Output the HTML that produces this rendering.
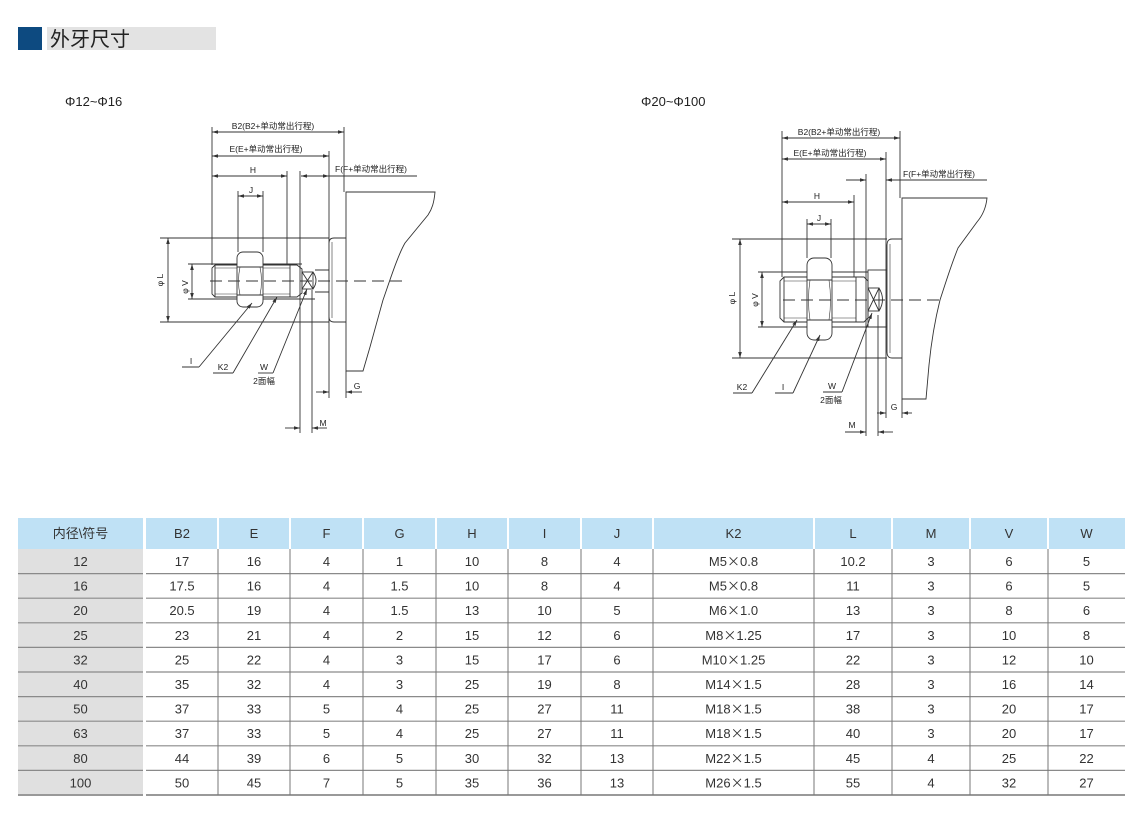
<!DOCTYPE html>
<html><head><meta charset="utf-8"><style>
html,body{margin:0;padding:0;background:#fff;}
svg{display:block;}
text{font-family:"Liberation Sans","Noto Sans CJK SC",sans-serif;}
</style></head><body>
<svg width="1140" height="816" viewBox="0 0 1140 816" xmlns="http://www.w3.org/2000/svg">
<defs>
<marker id="ar" viewBox="0 0 10 6" refX="10" refY="3" markerWidth="6" markerHeight="3.6" markerUnits="userSpaceOnUse" orient="auto-start-reverse"><path d="M0,0 L10,3 L0,6 z" fill="#333"/></marker>
</defs>
<rect width="1140" height="816" fill="#fff"/>

<!-- Title bar -->
<rect x="18" y="27" width="24" height="23" fill="#0d4a80"/>
<rect x="47" y="27" width="169" height="23" fill="#e3e3e3"/>
<text x="50" y="46" font-size="20" fill="#222">外牙尺寸</text>

<text x="65" y="106" font-size="13" fill="#222">Φ12~Φ16</text>
<text x="641" y="106" font-size="13" fill="#222">Φ20~Φ100</text>

<!-- ================= LEFT DIAGRAM ================= -->
<g stroke="#333" stroke-width="0.9" fill="none">
  <!-- dimension lines -->
  <line x1="212" y1="132" x2="344" y2="132" marker-start="url(#ar)" marker-end="url(#ar)"/>
  <line x1="212" y1="156" x2="329" y2="156" marker-start="url(#ar)" marker-end="url(#ar)"/>
  <line x1="212" y1="176" x2="287" y2="176" marker-start="url(#ar)" marker-end="url(#ar)"/>
  <line x1="301" y1="176" x2="329" y2="176" marker-start="url(#ar)" marker-end="url(#ar)"/>
  <line x1="329" y1="176" x2="417" y2="176"/>
  <line x1="238" y1="196" x2="263" y2="196" marker-start="url(#ar)" marker-end="url(#ar)"/>
  <line x1="168" y1="238" x2="168" y2="322" marker-start="url(#ar)" marker-end="url(#ar)"/>
  <line x1="192" y1="264" x2="192" y2="299" marker-start="url(#ar)" marker-end="url(#ar)"/>
  <line x1="285" y1="428" x2="300" y2="428" marker-end="url(#ar)"/>
  <line x1="327" y1="428" x2="312" y2="428" marker-end="url(#ar)"/>
  <line x1="316" y1="392" x2="329" y2="392" marker-end="url(#ar)"/>
  <line x1="362" y1="392" x2="346" y2="392" marker-end="url(#ar)"/>
  <!-- extension lines -->
  <line x1="212" y1="127" x2="212" y2="265"/>
  <line x1="344" y1="127" x2="344" y2="192"/>
  <line x1="329" y1="151" x2="329" y2="398"/>
  <line x1="287" y1="171" x2="287" y2="265"/>
  <line x1="300" y1="171" x2="300" y2="433"/>
  <line x1="312" y1="290" x2="312" y2="433"/>
  <line x1="238" y1="191" x2="238" y2="252"/>
  <line x1="263" y1="191" x2="263" y2="252"/>
  <line x1="346" y1="371" x2="346" y2="398"/>
  <line x1="160" y1="238" x2="329" y2="238"/>
  <line x1="160" y1="322" x2="329" y2="322"/>
  <line x1="188" y1="264" x2="302" y2="264"/>
  <line x1="188" y1="299" x2="315" y2="299"/>
  <!-- bolt -->
  <path d="M215,265 L297,265 L302,269 L302,293 L297,297 L215,297 L212,294 L212,268 Z"/>
  <line x1="215" y1="265" x2="215" y2="297"/>
  <line x1="290" y1="265" x2="290" y2="297"/>
  <line x1="215" y1="268" x2="290" y2="268" stroke-width="0.6"/>
  <line x1="215" y1="294" x2="290" y2="294" stroke-width="0.6"/>
  <!-- nut -->
  <rect x="237" y="252" width="26" height="55" rx="6" fill="#fff"/>
  <path d="M237,267 L263,267 M237,295 L263,295"/>
  <path d="M240,267 Q237,281 240,295 M260,267 Q263,281 260,295" stroke-width="0.6"/>
  <!-- rod + W flats -->
  <path d="M315,270 L329,270 M315,292 L329,292"/>
  <rect x="302" y="272" width="11" height="17" fill="#fff"/>
  <path d="M302,272 L313,289 M313,272 L302,289"/>
  <path d="M313,272 Q319,280.5 313,289"/>
  <!-- flange -->
  <path d="M346,238 L334,238 Q329,238 329,243 L329,317 Q329,322 334,322 L346,322" fill="#fff"/>
  <line x1="332" y1="242" x2="332" y2="318" stroke-width="0.6"/>
  <!-- plate -->
  <path d="M346,192 L435,192 C434,203 432,209 428,215 L405,243 C398,255 390,280 383,300 L370,347 L363,371 L346,371 Z"/>
  <!-- centerline -->
  <line x1="210" y1="281" x2="403" y2="281" stroke-dasharray="12,6"/>
  <!-- leaders -->
  <path d="M199,367 L182,367"/><line x1="199" y1="367" x2="252" y2="303" marker-end="url(#ar)"/>
  <path d="M233,373 L213,373"/><line x1="233" y1="373" x2="277" y2="297" marker-end="url(#ar)"/>
  <path d="M273,373 L258,373"/><line x1="273" y1="373" x2="307" y2="289" marker-end="url(#ar)"/>
</g>
<g font-size="8.5" fill="#222">
  <text x="273" y="129" text-anchor="middle">B2(B2+单动常出行程)</text>
  <text x="266" y="152" text-anchor="middle">E(E+单动常出行程)</text>
  <text x="253" y="173" text-anchor="middle">H</text>
  <text x="335" y="172">F(F+单动常出行程)</text>
  <text x="251" y="193" text-anchor="middle">J</text>
  <text x="163" y="280" text-anchor="middle" transform="rotate(-90 163 280)">φ L</text>
  <text x="188" y="287" text-anchor="middle" transform="rotate(-90 188 287)">φ V</text>
  <text x="323" y="426" text-anchor="middle">M</text>
  <text x="357" y="389" text-anchor="middle">G</text>
  <text x="191" y="364" text-anchor="middle">I</text>
  <text x="223" y="370" text-anchor="middle">K2</text>
  <text x="264" y="370" text-anchor="middle">W</text>
  <text x="264" y="384" text-anchor="middle">2面幅</text>
</g>

<!-- ================= RIGHT DIAGRAM ================= -->
<g stroke="#333" stroke-width="0.9" fill="none">
  <line x1="782" y1="138" x2="900" y2="138" marker-start="url(#ar)" marker-end="url(#ar)"/>
  <line x1="782" y1="159" x2="886" y2="159" marker-start="url(#ar)" marker-end="url(#ar)"/>
  <line x1="846" y1="180" x2="866" y2="180" marker-end="url(#ar)"/>
  <line x1="987" y1="180" x2="886" y2="180" marker-end="url(#ar)"/>
  <line x1="782" y1="202" x2="854" y2="202" marker-start="url(#ar)" marker-end="url(#ar)"/>
  <line x1="807" y1="224" x2="831" y2="224" marker-start="url(#ar)" marker-end="url(#ar)"/>
  <line x1="740" y1="239" x2="740" y2="358" marker-start="url(#ar)" marker-end="url(#ar)"/>
  <line x1="762" y1="272" x2="762" y2="327" marker-start="url(#ar)" marker-end="url(#ar)"/>
  <line x1="845" y1="432" x2="866" y2="432" marker-end="url(#ar)"/>
  <line x1="893" y1="432" x2="878" y2="432" marker-end="url(#ar)"/>
  <line x1="877" y1="413" x2="886" y2="413" marker-end="url(#ar)"/>
  <line x1="912" y1="413" x2="902" y2="413" marker-end="url(#ar)"/>
  <!-- extension lines -->
  <line x1="782" y1="131" x2="782" y2="277"/>
  <line x1="900" y1="131" x2="900" y2="198"/>
  <line x1="886" y1="152" x2="886" y2="418"/>
  <line x1="866" y1="174" x2="866" y2="436"/>
  <line x1="878" y1="315" x2="878" y2="436"/>
  <line x1="854" y1="195" x2="854" y2="277"/>
  <line x1="807" y1="219" x2="807" y2="258"/>
  <line x1="831" y1="219" x2="831" y2="258"/>
  <line x1="902" y1="399" x2="902" y2="418"/>
  <line x1="732" y1="239" x2="887" y2="239"/>
  <line x1="732" y1="358" x2="887" y2="358"/>
  <line x1="758" y1="272" x2="868" y2="272"/>
  <line x1="758" y1="327" x2="888" y2="327"/>
  <!-- bolt -->
  <path d="M784,277 L864,277 L868,281 L868,318 L864,322 L784,322 L780,318 L780,281 Z"/>
  <line x1="784" y1="277" x2="784" y2="322"/>
  <line x1="856" y1="277" x2="856" y2="322"/>
  <line x1="784" y1="281" x2="856" y2="281" stroke-width="0.6"/>
  <line x1="784" y1="318" x2="856" y2="318" stroke-width="0.6"/>
  <!-- nut -->
  <rect x="807" y="258" width="25" height="82" rx="7" fill="#fff"/>
  <path d="M807,280 L832,280 M807,320 L832,320"/>
  <path d="M810,280 Q807,300 810,320 M829,280 Q832,300 829,320" stroke-width="0.6"/>
  <!-- rod -->
  <rect x="868" y="270" width="19" height="57"/>
  <rect x="868" y="288" width="11" height="23" fill="#fff"/>
  <path d="M868,288 L879,311 M879,288 L868,311"/>
  <path d="M879,288 Q886,299.5 879,311"/>
  <!-- flange -->
  <path d="M902,239 L892,239 Q887,239 887,245 L887,352 Q887,358 892,358 L902,358" fill="#fff"/>
  <line x1="890" y1="244" x2="890" y2="353" stroke-width="0.6"/>
  <!-- plate -->
  <path d="M902,198 L987,198 C986,208 983,215 977,222 L958,248 C950,268 944,288 940,300 C935,320 931,345 929,365 L926,399 L902,399 Z"/>
  <!-- centerline -->
  <line x1="783" y1="300" x2="942" y2="300" stroke-dasharray="12,6"/>
  <!-- leaders -->
  <path d="M752,393 L733,393"/><line x1="752" y1="393" x2="797" y2="320" marker-end="url(#ar)"/>
  <path d="M793,393 L775,393"/><line x1="793" y1="393" x2="820" y2="335" marker-end="url(#ar)"/>
  <path d="M842,392 L823,392"/><line x1="842" y1="392" x2="872" y2="313" marker-end="url(#ar)"/>
</g>
<g font-size="8.5" fill="#222">
  <text x="839" y="135" text-anchor="middle">B2(B2+单动常出行程)</text>
  <text x="830" y="156" text-anchor="middle">E(E+单动常出行程)</text>
  <text x="903" y="177">F(F+单动常出行程)</text>
  <text x="817" y="199" text-anchor="middle">H</text>
  <text x="819" y="221" text-anchor="middle">J</text>
  <text x="735" y="298" text-anchor="middle" transform="rotate(-90 735 298)">φ L</text>
  <text x="758" y="300" text-anchor="middle" transform="rotate(-90 758 300)">φ V</text>
  <text x="852" y="428" text-anchor="middle">M</text>
  <text x="894" y="410" text-anchor="middle">G</text>
  <text x="742" y="390" text-anchor="middle">K2</text>
  <text x="783" y="390" text-anchor="middle">I</text>
  <text x="832" y="389" text-anchor="middle">W</text>
  <text x="831" y="403" text-anchor="middle">2面幅</text>
</g>

<!-- ================= TABLE ================= -->
<rect x="18" y="518" width="1107" height="31" fill="#bfe1f5"/>
<rect x="18" y="549" width="125" height="246" fill="#e0e0e0"/>
<g fill="#fff">
  <rect x="143" y="518" width="3" height="279"/>
  <rect x="217" y="518" width="2" height="31"/>
  <rect x="289" y="518" width="2" height="31"/>
  <rect x="362" y="518" width="2" height="31"/>
  <rect x="435" y="518" width="2" height="31"/>
  <rect x="507" y="518" width="2" height="31"/>
  <rect x="580" y="518" width="2" height="31"/>
  <rect x="652" y="518" width="2" height="31"/>
  <rect x="813" y="518" width="2" height="31"/>
  <rect x="891" y="518" width="2" height="31"/>
  <rect x="969" y="518" width="2" height="31"/>
  <rect x="1047" y="518" width="2" height="31"/>
</g>
<g stroke="#8a8a8a" stroke-width="1.2">
  <path d="M18,573.6H143M146,573.6H1125 M18,598.2H143M146,598.2H1125 M18,622.8H143M146,622.8H1125 M18,647.4H143M146,647.4H1125 M18,672H143M146,672H1125 M18,696.6H143M146,696.6H1125 M18,721.2H143M146,721.2H1125 M18,745.8H143M146,745.8H1125 M18,770.4H143M146,770.4H1125"/>
</g>
<g stroke="#999" stroke-width="2"><path d="M18,795H143M146,795H1125"/></g>
<g stroke="#777" stroke-width="1">
  <path d="M218,549V795M290,549V795M363,549V795M436,549V795M508,549V795M581,549V795M653,549V795M814,549V795M892,549V795M970,549V795M1048,549V795"/>
</g>

<g font-size="13" fill="#333" text-anchor="middle">
  <g transform="translate(0,538)">
    <text x="80.5">内径\符号</text><text x="182">B2</text><text x="254">E</text><text x="326.5">F</text><text x="399.5">G</text><text x="472">H</text><text x="544.5">I</text><text x="617">J</text><text x="733.5">K2</text><text x="853">L</text><text x="931">M</text><text x="1009">V</text><text x="1086.5">W</text>
  </g>
  <g transform="translate(0,566)">
    <text x="80.5">12</text><text x="182">17</text><text x="254">16</text><text x="326.5">4</text><text x="399.5">1</text><text x="472">10</text><text x="544.5">8</text><text x="617">4</text><text x="733.5">M5<tspan font-family="'Noto Sans CJK SC',sans-serif">×</tspan>0.8</text><text x="853">10.2</text><text x="931">3</text><text x="1009">6</text><text x="1086.5">5</text>
  </g>
  <g transform="translate(0,590.6)">
    <text x="80.5">16</text><text x="182">17.5</text><text x="254">16</text><text x="326.5">4</text><text x="399.5">1.5</text><text x="472">10</text><text x="544.5">8</text><text x="617">4</text><text x="733.5">M5<tspan font-family="'Noto Sans CJK SC',sans-serif">×</tspan>0.8</text><text x="853">11</text><text x="931">3</text><text x="1009">6</text><text x="1086.5">5</text>
  </g>
  <g transform="translate(0,615.2)">
    <text x="80.5">20</text><text x="182">20.5</text><text x="254">19</text><text x="326.5">4</text><text x="399.5">1.5</text><text x="472">13</text><text x="544.5">10</text><text x="617">5</text><text x="733.5">M6<tspan font-family="'Noto Sans CJK SC',sans-serif">×</tspan>1.0</text><text x="853">13</text><text x="931">3</text><text x="1009">8</text><text x="1086.5">6</text>
  </g>
  <g transform="translate(0,639.8)">
    <text x="80.5">25</text><text x="182">23</text><text x="254">21</text><text x="326.5">4</text><text x="399.5">2</text><text x="472">15</text><text x="544.5">12</text><text x="617">6</text><text x="733.5">M8<tspan font-family="'Noto Sans CJK SC',sans-serif">×</tspan>1.25</text><text x="853">17</text><text x="931">3</text><text x="1009">10</text><text x="1086.5">8</text>
  </g>
  <g transform="translate(0,664.4)">
    <text x="80.5">32</text><text x="182">25</text><text x="254">22</text><text x="326.5">4</text><text x="399.5">3</text><text x="472">15</text><text x="544.5">17</text><text x="617">6</text><text x="733.5">M10<tspan font-family="'Noto Sans CJK SC',sans-serif">×</tspan>1.25</text><text x="853">22</text><text x="931">3</text><text x="1009">12</text><text x="1086.5">10</text>
  </g>
  <g transform="translate(0,689)">
    <text x="80.5">40</text><text x="182">35</text><text x="254">32</text><text x="326.5">4</text><text x="399.5">3</text><text x="472">25</text><text x="544.5">19</text><text x="617">8</text><text x="733.5">M14<tspan font-family="'Noto Sans CJK SC',sans-serif">×</tspan>1.5</text><text x="853">28</text><text x="931">3</text><text x="1009">16</text><text x="1086.5">14</text>
  </g>
  <g transform="translate(0,713.6)">
    <text x="80.5">50</text><text x="182">37</text><text x="254">33</text><text x="326.5">5</text><text x="399.5">4</text><text x="472">25</text><text x="544.5">27</text><text x="617">11</text><text x="733.5">M18<tspan font-family="'Noto Sans CJK SC',sans-serif">×</tspan>1.5</text><text x="853">38</text><text x="931">3</text><text x="1009">20</text><text x="1086.5">17</text>
  </g>
  <g transform="translate(0,738.2)">
    <text x="80.5">63</text><text x="182">37</text><text x="254">33</text><text x="326.5">5</text><text x="399.5">4</text><text x="472">25</text><text x="544.5">27</text><text x="617">11</text><text x="733.5">M18<tspan font-family="'Noto Sans CJK SC',sans-serif">×</tspan>1.5</text><text x="853">40</text><text x="931">3</text><text x="1009">20</text><text x="1086.5">17</text>
  </g>
  <g transform="translate(0,762.8)">
    <text x="80.5">80</text><text x="182">44</text><text x="254">39</text><text x="326.5">6</text><text x="399.5">5</text><text x="472">30</text><text x="544.5">32</text><text x="617">13</text><text x="733.5">M22<tspan font-family="'Noto Sans CJK SC',sans-serif">×</tspan>1.5</text><text x="853">45</text><text x="931">4</text><text x="1009">25</text><text x="1086.5">22</text>
  </g>
  <g transform="translate(0,787.4)">
    <text x="80.5">100</text><text x="182">50</text><text x="254">45</text><text x="326.5">7</text><text x="399.5">5</text><text x="472">35</text><text x="544.5">36</text><text x="617">13</text><text x="733.5">M26<tspan font-family="'Noto Sans CJK SC',sans-serif">×</tspan>1.5</text><text x="853">55</text><text x="931">4</text><text x="1009">32</text><text x="1086.5">27</text>
  </g>
</g>
</svg>
</body></html>
